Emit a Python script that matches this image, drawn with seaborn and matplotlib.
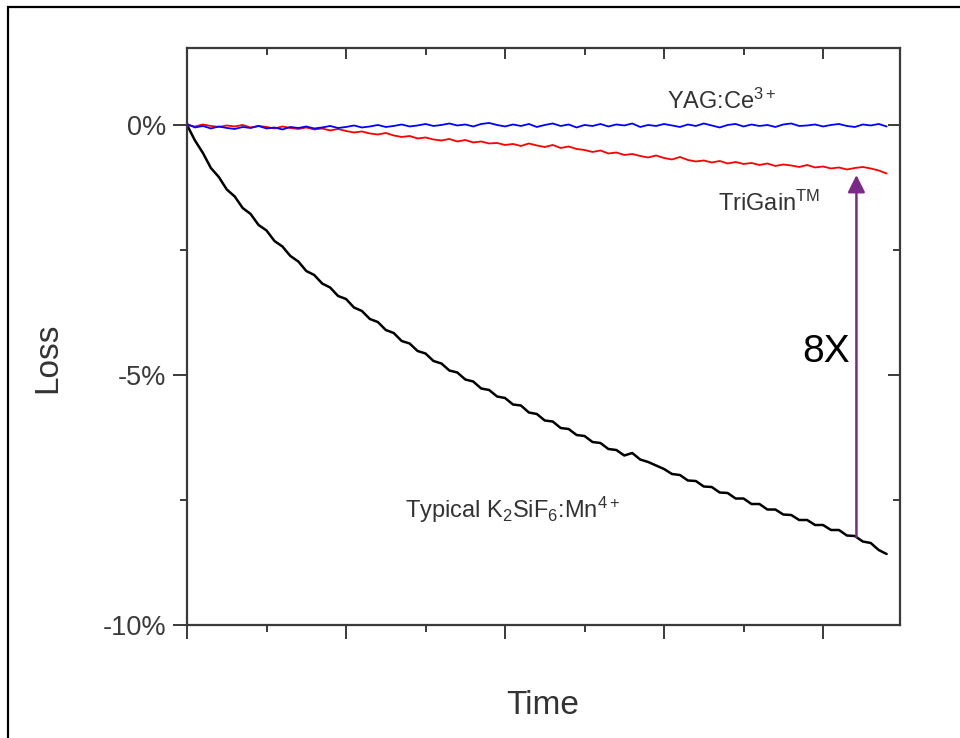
import numpy as np
import pandas as pd
import seaborn as sns
import matplotlib.pyplot as plt
from matplotlib.patches import Rectangle
from matplotlib.ticker import MultipleLocator, FixedLocator, FixedFormatter

yag_loss = [0.02, -0.05, -0.02, -0.07, -0.03, -0.06, -0.08, -0.04, -0.06, -0.02,
            -0.07, -0.05, -0.09, -0.04, -0.06, -0.03, -0.07, -0.05, -0.02, -0.06,
            -0.04, -0.01, -0.05, -0.03, 0.00, -0.04, -0.02, 0.01, -0.03, -0.01,
            0.02, -0.02, 0.00, 0.03, -0.01, 0.01, -0.03, 0.02, 0.04, 0.00,
            -0.03, 0.01, -0.02, 0.02, -0.04, 0.00, 0.03, -0.02, 0.01, -0.05,
            0.00, -0.02, 0.02, -0.03, 0.01, -0.01, 0.03, -0.04, 0.00, -0.02,
            0.02, -0.01, -0.04, 0.01, -0.02, 0.03, -0.01, -0.05, 0.00, 0.02,
            -0.03, 0.01, -0.02, 0.00, -0.04, 0.01, 0.03, -0.02, -0.01, 0.01,
            -0.03, 0.00, 0.02, -0.02, -0.04, 0.01, -0.01, 0.02, -0.03]
trigain_loss = [0.00, -0.03, 0.01, -0.02, -0.04, -0.01, -0.03, 0.00, -0.05, -0.02,
                -0.04, -0.07, -0.03, -0.06, -0.08, -0.05, -0.09, -0.07, -0.11, -0.08,
                -0.12, -0.15, -0.13, -0.17, -0.19, -0.16, -0.21, -0.24, -0.22, -0.27,
                -0.25, -0.29, -0.31, -0.28, -0.33, -0.30, -0.35, -0.33, -0.37, -0.36,
                -0.40, -0.38, -0.42, -0.37, -0.41, -0.44, -0.40, -0.46, -0.43, -0.48,
                -0.50, -0.54, -0.51, -0.57, -0.55, -0.60, -0.58, -0.62, -0.65, -0.61,
                -0.66, -0.69, -0.64, -0.70, -0.73, -0.71, -0.75, -0.72, -0.77, -0.74,
                -0.78, -0.76, -0.80, -0.77, -0.82, -0.79, -0.81, -0.84, -0.80, -0.85,
                -0.83, -0.87, -0.85, -0.89, -0.86, -0.84, -0.87, -0.91, -0.97]
ksf_loss = [0.00, -0.31, -0.56, -0.86, -1.04, -1.29, -1.43, -1.66, -1.78, -2.00,
            -2.11, -2.32, -2.43, -2.62, -2.73, -2.92, -3.00, -3.17, -3.25, -3.42,
            -3.48, -3.65, -3.72, -3.88, -3.94, -4.10, -4.16, -4.32, -4.37, -4.52,
            -4.57, -4.72, -4.77, -4.91, -4.95, -5.09, -5.13, -5.27, -5.30, -5.43,
            -5.46, -5.59, -5.61, -5.75, -5.78, -5.91, -5.93, -6.06, -6.08, -6.20,
            -6.22, -6.34, -6.36, -6.48, -6.50, -6.61, -6.56, -6.69, -6.74, -6.81,
            -6.88, -6.98, -7.00, -7.11, -7.12, -7.23, -7.24, -7.35, -7.36, -7.47,
            -7.47, -7.58, -7.58, -7.69, -7.69, -7.79, -7.80, -7.90, -7.90, -8.00,
            -8.00, -8.10, -8.10, -8.21, -8.22, -8.33, -8.36, -8.50, -8.58]
time = np.linspace(0, 4.4, len(ksf_loss))

y_ticks = [0, -5, -10]
y_tick_labels = ['0%', '-5%', '-10%']

df = pd.concat([
    pd.DataFrame({'time': time, 'loss': ksf_loss, 'series': 'KSF'}),
    pd.DataFrame({'time': time, 'loss': trigain_loss, 'series': 'TriGain'}),
    pd.DataFrame({'time': time, 'loss': yag_loss, 'series': 'YAG'}),
])

sns.set_style('white')
plt.rcParams['font.family'] = ['Liberation Sans', 'DejaVu Sans']
plt.rcParams['mathtext.fontset'] = 'custom'
plt.rcParams['mathtext.rm'] = 'Liberation Sans'
plt.rcParams['mathtext.it'] = 'Liberation Sans:italic'

fig = plt.figure(figsize=(9.6, 7.38), dpi=100)
ax = fig.add_axes([0.1948, 0.1531, 0.7427, 0.7819])

sns.lineplot(data=df, x='time', y='loss', hue='series', estimator=None, sort=False,
             palette={'KSF': 'black', 'TriGain': '#ff0000', 'YAG': '#0000ff'},
             legend=False, ax=ax)
for line, lw in zip(ax.lines, [1.8, 1.3, 1.3]):
    line.set_linewidth(lw)

ax.set_xlim(0, 4.484)
ax.set_ylim(-10, 1.54)

spine_col = '#3a3a3a'
for sp in ax.spines.values():
    sp.set_visible(True)
    sp.set_color(spine_col)
    sp.set_linewidth(1.6)

ax.xaxis.set_major_locator(MultipleLocator(1))
ax.xaxis.set_minor_locator(MultipleLocator(0.5))
ax.yaxis.set_major_locator(FixedLocator(y_ticks))
ax.yaxis.set_major_formatter(FixedFormatter(y_tick_labels))
ax.yaxis.set_minor_locator(MultipleLocator(2.5))
ax.tick_params(which='both', direction='out', color=spine_col, width=1.4,
               labelsize=19.5, labelcolor='#3a3a3a',
               bottom=True, left=True, top=False, right=False)
ax.tick_params(which='major', length=10, pad=5)
ax.tick_params(which='minor', length=5)
ax.tick_params(axis='x', labelbottom=False)

# inward ticks on top and right
secx = ax.secondary_xaxis('top')
secx.xaxis.set_major_locator(MultipleLocator(1))
secx.xaxis.set_minor_locator(MultipleLocator(0.5))
secx.tick_params(which='both', direction='in', color=spine_col, width=1.4,
                 top=True, labeltop=False)
secx.tick_params(which='major', length=8)
secx.tick_params(which='minor', length=5)
secx.spines['top'].set_visible(False)
secy = ax.secondary_yaxis('right')
secy.yaxis.set_major_locator(FixedLocator(y_ticks))
secy.yaxis.set_minor_locator(MultipleLocator(2.5))
secy.tick_params(which='both', direction='in', color=spine_col, width=1.4,
                 right=True, labelright=False)
secy.tick_params(which='major', length=9)
secy.tick_params(which='minor', length=5)
secy.spines['right'].set_visible(False)

ax.set_xlabel('Time', fontsize=24, color='#333333')
ax.set_ylabel('Loss', fontsize=24, color='#333333')
ax.xaxis.set_label_coords(0.499, -0.139)
ax.xaxis.label.set_va('center')
ax.yaxis.set_label_coords(-0.195, 0.464)
ax.yaxis.label.set_va('center')

ax.text(3.02, 0.48, r'YAG:Ce$^{\mathrm{3+}}$', fontsize=17, color='#333333', va='center')
ax.text(3.34, -1.56, r'TriGain$^{\mathrm{TM}}$', fontsize=17, color='#333333', va='center')
ax.text(1.37, -7.7, r'Typical K$_{\mathrm{2}}$SiF$_{\mathrm{6}}$:Mn$^{\mathrm{4+}}$',
        fontsize=17, color='#333333', va='center')
ax.text(4.02, -4.54, '8X', fontsize=28, color='black', ha='center', va='center')

ax.annotate('', xy=(4.21, -1.0), xytext=(4.21, -8.24),
            arrowprops=dict(arrowstyle='-|>', color='#7b2a87', lw=1.8,
                            mutation_scale=26, shrinkA=0, shrinkB=0))

# outer frame of the slide
fig.patches.append(Rectangle((8 / 960, -0.1), 1.2, 1.1 - 7 / 738, transform=fig.transFigure,
                             fill=False, ec='black', lw=1.6))

fig.savefig('out.png', dpi=100)
